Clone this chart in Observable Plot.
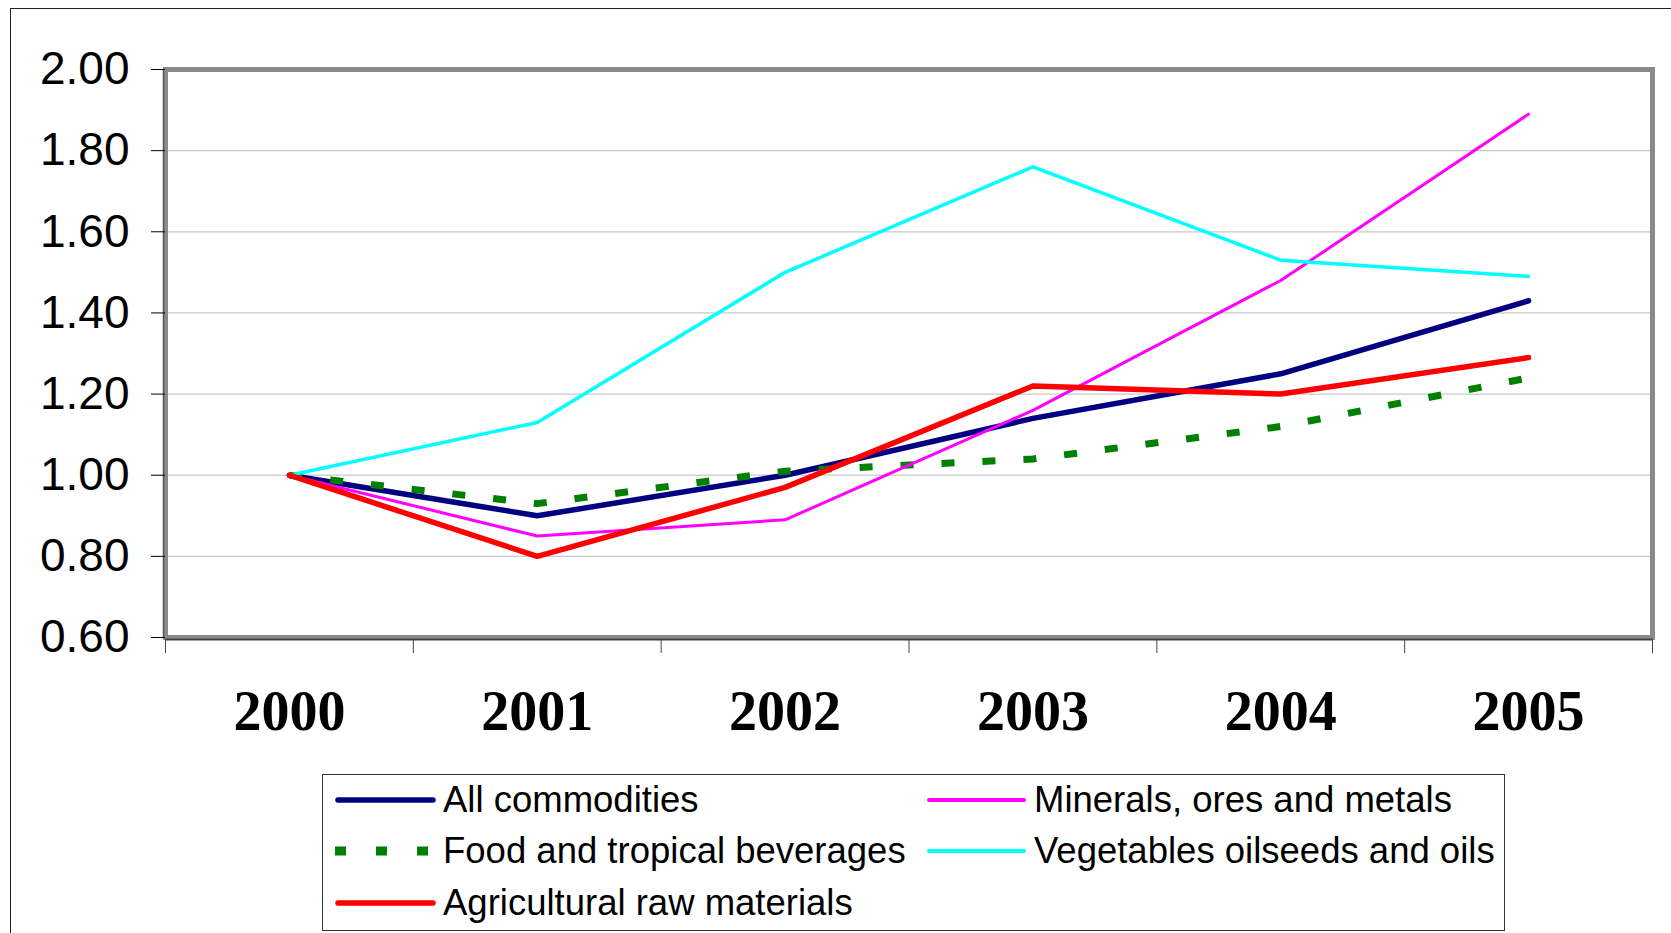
<!DOCTYPE html>
<html><head><meta charset="utf-8">
<script src="https://cdn.jsdelivr.net/npm/d3@7"></script>
<script src="https://cdn.jsdelivr.net/npm/@observablehq/plot@0.6"></script>
<style>
html,body{margin:0;padding:0;background:#fff;overflow:hidden;}
#wrap{position:relative;width:1671px;height:933px;overflow:hidden;}
#outer{position:absolute;left:10px;top:8px;width:1720px;height:1000px;border:1.5px solid #222;box-sizing:border-box;}
#chart{position:absolute;left:0;top:0;}
#legend{position:absolute;left:322px;top:774px;width:1183px;height:157px;border:1.5px solid #333;box-sizing:border-box;background:#fff;font-family:"Liberation Sans",Arial,sans-serif;font-size:36.5px;color:#000;}
.item{position:absolute;height:40px;display:flex;align-items:center;white-space:nowrap;}
.item svg{margin-right:6px;}
</style></head>
<body><div id="wrap"><div id="outer"></div><div id="chart"></div><div id="legend"></div></div>
<script>
const years = [2000, 2001, 2002, 2003, 2004, 2005];
const seriesNames = ["All commodities", "Food and tropical beverages", "Agricultural raw materials", "Minerals, ores and metals", "Vegetables oilseeds and oils"];
const allCommodities = [1.00, 0.90, 1.00, 1.14, 1.25, 1.43];
const foodTropical   = [1.00, 0.93, 1.01, 1.04, 1.12, 1.24];
const agriculturalRaw = [1.00, 0.80, 0.97, 1.22, 1.20, 1.29];
const mineralsOres   = [1.00, 0.85, 0.89, 1.16, 1.48, 1.89];
const vegetableOils  = [1.00, 1.13, 1.50, 1.76, 1.53, 1.49];
const yTicks = [0.6, 0.8, 1.0, 1.2, 1.4, 1.6, 1.8, 2.0];
const xBoundaries = [1999.5, 2000.5, 2001.5, 2002.5, 2003.5, 2004.5, 2005.5];

const seriesValues = [allCommodities, foodTropical, agriculturalRaw, mineralsOres, vegetableOils];
const styles = {
  "All commodities": {stroke: "#000080", strokeWidth: 5.5},
  "Food and tropical beverages": {stroke: "#008000", strokeWidth: 7, strokeDasharray: "13,28", strokeLinecap: "butt"},
  "Agricultural raw materials": {stroke: "#ff0000", strokeWidth: 5.5},
  "Minerals, ores and metals": {stroke: "#ff00ff", strokeWidth: 3},
  "Vegetables oilseeds and oils": {stroke: "#00ffff", strokeWidth: 3.5}
};
const rows = [];
seriesNames.forEach((s, i) => years.forEach((y, j) => rows.push({series: s, year: y, value: seriesValues[i][j]})));
const drawOrder = ["All commodities", "Food and tropical beverages", "Minerals, ores and metals", "Vegetables oilseeds and oils", "Agricultural raw materials"];

const plot = Plot.plot({
  width: 1671, height: 933,
  marginLeft: 165, marginRight: 19, marginTop: 69, marginBottom: 296,
  x: {type: "linear", domain: [1999.5, 2005.5], label: null},
  y: {domain: [0.6, 2.0], label: null},
  style: {background: "transparent", fontFamily: "Liberation Sans, Arial, sans-serif", overflow: "visible"},
  marks: [
    Plot.gridY(yTicks, {stroke: "#c8c8c8", strokeOpacity: 1, strokeWidth: 1.3}),
    Plot.frame({stroke: "#8a8a8a", strokeWidth: 5}),
    Plot.ruleX([1999.5], {stroke: "#555", strokeWidth: 1.5, dx: -2}),
    Plot.ruleY([0.6], {stroke: "#444", strokeWidth: 1.8, dy: 2}),
    ...drawOrder.map(name => Plot.line(rows.filter(r => r.series === name), {
      x: "year", y: "value", strokeLinejoin: "round", strokeLinecap: "round", ...styles[name]
    })),
    Plot.axisY(yTicks, {tickSize: 14, tickPadding: 22, tickFormat: d => d.toFixed(2), fontSize: 46, color: "#000", label: null}),
    Plot.axisX(xBoundaries, {tickSize: 14, tickFormat: () => "", stroke: "#444", label: null, dy: 2}),
    Plot.axisX(years, {tickSize: 0, tickPadding: 53, tickFormat: d => String(d), fontSize: 56, fontWeight: "bold", fontFamily: "Liberation Serif, Times New Roman, serif", color: "#000", label: null})
  ]
});
document.getElementById("chart").appendChild(plot);

// legend
const legend = document.getElementById("legend");
const legendPos = {
  "All commodities": [12, 25],
  "Minerals, ores and metals": [603, 25],
  "Food and tropical beverages": [12, 76],
  "Vegetables oilseeds and oils": [603, 76],
  "Agricultural raw materials": [12, 128]
};
for (const name of seriesNames) {
  const st = styles[name];
  const [lx, ly] = legendPos[name];
  const div = document.createElement("div");
  div.className = "item";
  div.style.left = lx + "px";
  div.style.top = (ly - 20) + "px";
  const dash = st.strokeDasharray ? `stroke-dasharray="11,30" stroke-linecap="butt"` : `stroke-linecap="round"`;
  const sw = st.strokeDasharray ? 9 : Math.max(st.strokeWidth, 4);
  div.innerHTML = `<svg width="102" height="20"><line x1="${st.strokeDasharray ? 0 : 3}" y1="10" x2="${st.strokeDasharray ? 102 : 98}" y2="10" stroke="${st.stroke}" stroke-width="${sw}" ${dash}/></svg><span>${name}</span>`;
  legend.appendChild(div);
}
</script>
</body></html>
